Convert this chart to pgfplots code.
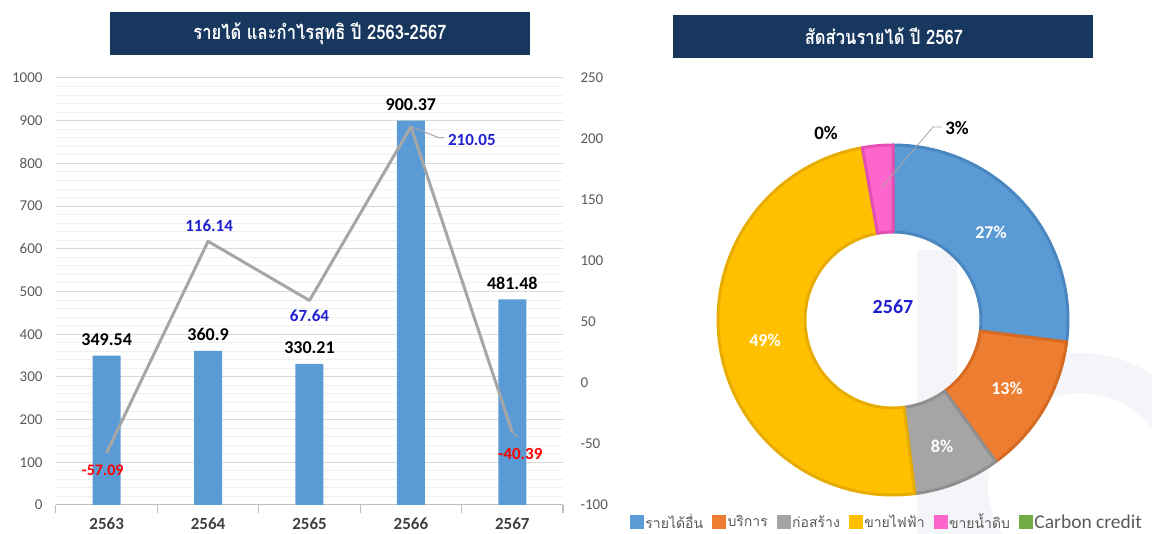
\documentclass[border=0pt]{standalone}
\usepackage{pgfplots}
\usepackage{pgfplotstable}
\pgfplotsset{compat=1.18}
\usepackage{fontspec}
\setmainfont{Carlito}
\newfontfamily\thai[Script=Thai]{Loma}
\definecolor{navy}{HTML}{17375E}
\definecolor{cblue}{HTML}{5B9BD5}
\definecolor{dblue}{HTML}{4A86BF}
\definecolor{corange}{HTML}{ED7D31}
\definecolor{dorange}{HTML}{D66A22}
\definecolor{cgray}{HTML}{A5A5A5}
\definecolor{dgray}{HTML}{8F8F8F}
\definecolor{cyellow}{HTML}{FFC000}
\definecolor{dyellow}{HTML}{E6AC00}
\definecolor{cpink}{HTML}{FF66CC}
\definecolor{dpink}{HTML}{E34FB2}
\definecolor{cgreen}{HTML}{70AD47}
\definecolor{tickgray}{HTML}{595959}
\definecolor{xlabgray}{HTML}{404040}
\definecolor{linegray}{HTML}{A6A6A6}
\definecolor{lblblue}{HTML}{1F1FD0}
\definecolor{wm}{HTML}{F3F5F8}

\pgfplotstableread{
x rev
0 349.54
1 360.9
2 330.21
3 900.37
4 481.48
}\revtable
\pgfplotstableread{
x np
0 -57.09
1 116.14
2 67.64
3 210.05
4 -40.39
}\nptable

% donut segment: start angle, share (%), fill, stroke
\newcommand\seg[4]{%
 \filldraw[fill=#3, draw=#4, line width=3pt, line join=round]
  (axis cs:{175*cos(#1)},{175*sin(#1)})
  arc[start angle=#1, end angle={#1-3.6*#2}, radius=175pt]
  -- (axis cs:{88*cos(#1-3.6*#2)},{88*sin(#1-3.6*#2)})
  arc[start angle={#1-3.6*#2}, end angle=#1, radius=88pt] -- cycle;}

\begin{document}
\begin{tikzpicture}
\useasboundingbox (0pt,0pt) rectangle (1152pt,534pt);
% faint watermark
\fill[wm] (917pt,0pt) rectangle (957pt,284pt);
\begin{scope}
\clip (957pt,0pt) rectangle (1152pt,534pt);
\fill[wm,even odd rule] (1080pt,49pt) circle[radius=132pt] (1080pt,49pt) circle[radius=92pt];
\end{scope}

% titles
\fill[navy] (110pt,479pt) rectangle (530pt,522pt);
\node[text=white, xscale=0.83, font=\thai\bfseries\fontsize{20}{23}\selectfont] at (320pt,500.5pt) {รายได้ และกำไรสุทธิ ปี 2563-2567};
\fill[navy] (673pt,476pt) rectangle (1093pt,519pt);
\node[text=white, xscale=0.83, font=\thai\bfseries\fontsize{20}{23}\selectfont] at (884pt,497.5pt) {สัดส่วนรายได้ ปี 2567};

% left axis: revenue bars
\begin{axis}[
 at={(56pt,29pt)}, anchor=south west, width=507pt, height=427pt, scale only axis,
 xmin=-0.5, xmax=4.5, ymin=0, ymax=1000,
 axis y line*=left, axis x line*=bottom,
 y axis line style={draw=none},
 x axis line style={draw=gray!50, line width=1pt},
 ytick={0,100,...,1000}, minor y tick num=4,
 ymajorgrids, yminorgrids,
 major grid style={draw=gray!30, line width=1pt},
 minor grid style={draw=gray!12, line width=1pt},
 major y tick style={draw=none}, minor y tick style={draw=none},
 yticklabel style={font=\fontsize{15}{18}\selectfont, text=tickgray, xshift=-10pt},
 /pgf/number format/assume math mode=true,
 /pgf/number format/1000 sep={},
 xtick={0,...,4}, xticklabels={2563,2564,2565,2566,2567},
 xticklabel style={font=\bfseries\fontsize{17}{20}\selectfont, text=xlabgray, yshift=-9pt},
 major x tick style={draw=none},
 extra x ticks={-0.5,0.5,...,4.5}, extra x tick labels={},
 extra x tick style={major x tick style={draw=gray!50, line width=1pt}, major tick length=8pt, tick align=outside, grid=none},
 clip=false,
]
\addplot[ybar, bar width=28pt, fill=cblue, draw=none,
  nodes near coords, point meta=explicit symbolic,
  every node near coord/.append style={font=\bfseries\fontsize{18}{20}\selectfont, text=black, anchor=south, inner sep=0pt, yshift=10pt}]
  table[x=x, y=rev, meta=rev] {\revtable};
\end{axis}

% right axis: net profit line
\begin{axis}[
 at={(56pt,29pt)}, anchor=south west, width=507pt, height=427pt, scale only axis,
 xmin=-0.5, xmax=4.5, ymin=-100, ymax=250, ytick={-100,-50,...,250},
 axis y line*=right, axis x line=none, xtick=\empty,
 y axis line style={draw=none}, major y tick style={draw=none},
 yticklabel style={font=\fontsize{15}{18}\selectfont, text=tickgray, xshift=14pt},
 /pgf/number format/assume math mode=true,
 clip=false,
]
\addplot[linegray, line width=3pt, line join=round] table[x=x, y=np] {\nptable};
\draw[linegray, line width=1pt] (axis cs:3,210.05) -- ++(28pt,-11pt) -- ++(5pt,0pt);
\draw[linegray, line width=1pt] (axis cs:4,-40.39) -- ++(6pt,-5pt);
\node[font=\bfseries\fontsize{16}{18}\selectfont, text=red] at ([shift={(-4pt,-17.5pt)}]axis cs:0,-57.09) {-57.09};
\node[font=\bfseries\fontsize{17}{19}\selectfont, text=lblblue] at ([shift={(1pt,15.5pt)}]axis cs:1,116.14) {116.14};
\node[font=\bfseries\fontsize{17}{19}\selectfont, text=lblblue] at ([shift={(0pt,-15.5pt)}]axis cs:2,67.64) {67.64};
\node[font=\bfseries\fontsize{17}{19}\selectfont, text=lblblue] at ([shift={(61pt,-13.3pt)}]axis cs:3,210.05) {210.05};
\node[font=\bfseries\fontsize{17}{19}\selectfont, text=red] at ([shift={(8pt,-21.7pt)}]axis cs:4,-40.39) {-40.39};
\end{axis}

% donut
\begin{axis}[
 at={(893pt,214pt)}, anchor=center, x=1pt, y=1pt,
 xmin=-200, xmax=200, ymin=-200, ymax=200, hide axis, clip=false,
 legend columns=6,
 legend style={at={(0.485,-0.005)}, anchor=center, draw=none, fill=none,
   font=\fontsize{19.5}{21}\selectfont, text=tickgray,
   /tikz/every even column/.append style={column sep=7pt}},
 legend image code/.code={\fill[#1] (0pt,-6.5pt) rectangle (13pt,6.5pt);},
]
\addlegendimage{cblue}\addlegendentry{\thai\fontsize{14}{16}\selectfont รายได้อื่น}
\addlegendimage{corange}\addlegendentry{\thai\fontsize{14}{16}\selectfont บริการ}
\addlegendimage{cgray}\addlegendentry{\thai\fontsize{14}{16}\selectfont ก่อสร้าง}
\addlegendimage{cyellow}\addlegendentry{\thai\fontsize{14}{16}\selectfont ขายไฟฟ้า}
\addlegendimage{cpink}\addlegendentry{\thai\fontsize{14}{16}\selectfont ขายน้ำดิบ}
\addlegendimage{cgreen}\addlegendentry{Carbon credit}
% shares (%): 27, 13, 8, 49.2, 2.8, 0 ; clockwise from top
\seg{90}{27}{cblue}{dblue}
\seg{-7.2}{13}{corange}{dorange}
\seg{-54}{8}{cgray}{dgray}
\seg{-82.8}{49.2}{cyellow}{dyellow}
\seg{-259.92}{2.8}{cpink}{dpink}
\node[font=\bfseries\fontsize{18}{20}\selectfont, text=white] at (axis cs:98,88) {27\%};
\node[font=\bfseries\fontsize{18}{20}\selectfont, text=white] at (axis cs:114,-68) {13\%};
\node[font=\bfseries\fontsize{18}{20}\selectfont, text=white] at (axis cs:49,-126) {8\%};
\node[font=\bfseries\fontsize{18}{20}\selectfont, text=white] at (axis cs:-128,-20) {49\%};
\draw[gray!70, line width=0.8pt] (axis cs:49,193) -- (axis cs:40,193) -- (axis cs:-11,133);
\node[font=\bfseries\fontsize{19}{21}\selectfont, text=black] at (axis cs:64,192) {3\%};
\node[font=\bfseries\fontsize{19}{21}\selectfont, text=black] at (axis cs:-67,187) {0\%};
\node[font=\bfseries\fontsize{20}{22}\selectfont, text=lblblue] at (axis cs:0,13) {2567};
\end{axis}
\end{tikzpicture}
\end{document}
